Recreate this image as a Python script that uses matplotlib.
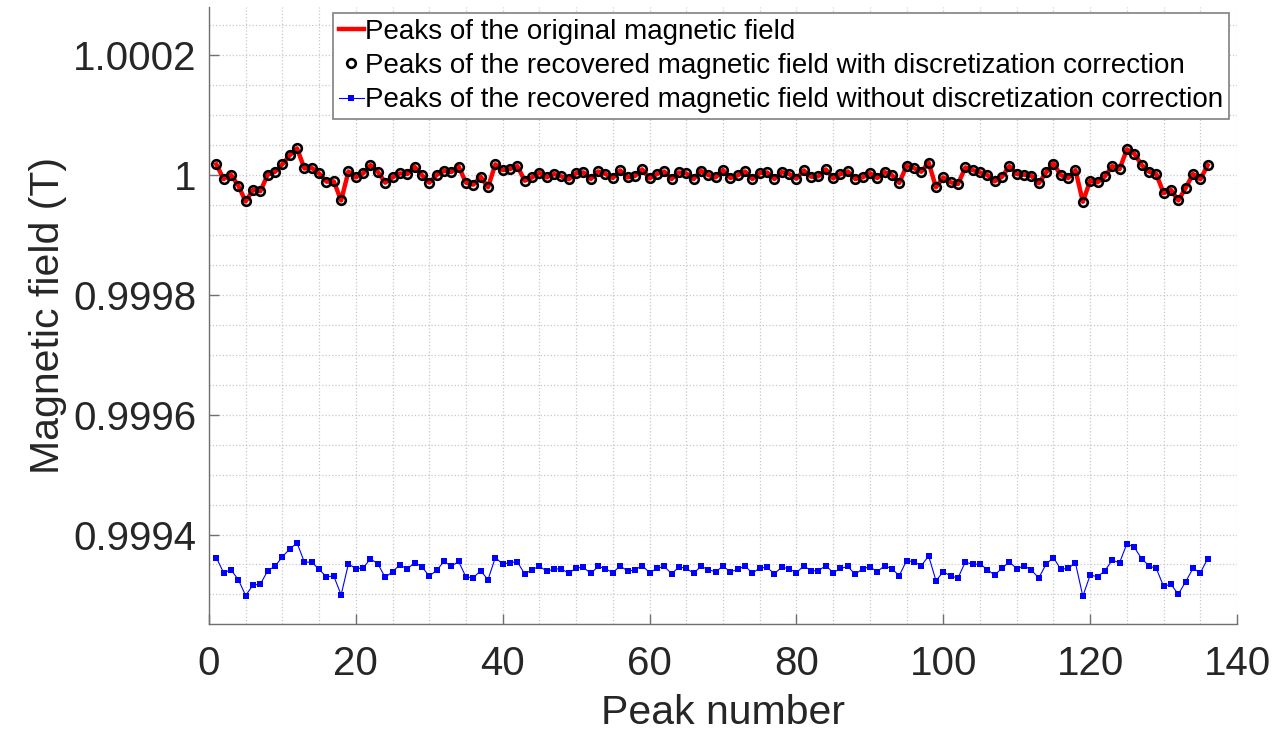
import matplotlib
matplotlib.use("Agg")
import matplotlib.pyplot as plt
from matplotlib.ticker import MultipleLocator

plt.rcParams['font.family'] = ['Liberation Sans', 'DejaVu Sans']

# peak values (Tesla)
original_peaks = [
    1.0000180, 0.9999934, 1.0000005, 0.9999824, 0.9999560, 0.9999752, 0.9999730, 1.0000005,
    1.0000055, 1.0000180, 1.0000330, 1.0000446, 1.0000110, 1.0000120, 1.0000028, 0.9999890,
    0.9999895, 0.9999576, 1.0000060, 0.9999961, 1.0000028, 1.0000165, 1.0000055, 0.9999873,
    0.9999961, 1.0000028, 1.0000017, 1.0000138, 1.0000000, 0.9999873, 1.0000000, 1.0000070,
    1.0000050, 1.0000143, 0.9999873, 0.9999840, 0.9999972, 0.9999796, 1.0000180, 1.0000083,
    1.0000100, 1.0000149, 0.9999906, 0.9999961, 1.0000039, 0.9999961, 1.0000017, 0.9999978,
    0.9999930, 1.0000033, 1.0000044, 0.9999934, 1.0000060, 1.0000017, 0.9999950, 1.0000077,
    0.9999961, 0.9999983, 1.0000094, 0.9999945, 1.0000017, 1.0000060, 0.9999934, 1.0000044,
    1.0000028, 0.9999934, 1.0000070, 1.0000000, 0.9999961, 1.0000083, 0.9999950, 0.9999995,
    1.0000060, 0.9999934, 1.0000033, 1.0000044, 0.9999934, 1.0000050, 1.0000017, 0.9999940,
    1.0000077, 0.9999972, 0.9999978, 1.0000094, 0.9999945, 1.0000017, 1.0000060, 0.9999934,
    0.9999961, 1.0000033, 0.9999950, 1.0000050, 1.0000000, 0.9999870, 1.0000154, 1.0000116,
    1.0000055, 1.0000209, 0.9999796, 0.9999961, 0.9999879, 0.9999851, 1.0000127, 1.0000083,
    1.0000044, 1.0000000, 0.9999895, 0.9999972, 1.0000149, 1.0000017, 1.0000006, 0.9999989,
    0.9999862, 1.0000044, 1.0000193, 1.0000000, 0.9999950, 1.0000083, 0.9999554, 0.9999906,
    0.9999879, 0.9999978, 1.0000149, 1.0000099, 1.0000430, 1.0000358, 1.0000171, 1.0000055,
    1.0000017, 0.9999697, 0.9999752, 0.9999576, 0.9999785, 1.0000017, 0.9999928, 1.0000165,
]

# circles sit exactly on the original peaks in the reference
recovered_corrected = list(original_peaks)

recovered_uncorrected = [
    0.9993616, 0.9993362, 0.9993412, 0.9993247, 0.9992982, 0.9993158, 0.9993170, 0.9993395,
    0.9993472, 0.9993627, 0.9993759, 0.9993858, 0.9993539, 0.9993539, 0.9993417, 0.9993296,
    0.9993307, 0.9992993, 0.9993511, 0.9993428, 0.9993445, 0.9993594, 0.9993511, 0.9993285,
    0.9993379, 0.9993494, 0.9993423, 0.9993533, 0.9993461, 0.9993307, 0.9993401, 0.9993550,
    0.9993472, 0.9993550, 0.9993291, 0.9993280, 0.9993395, 0.9993247, 0.9993616, 0.9993506,
    0.9993533, 0.9993544, 0.9993340, 0.9993412, 0.9993472, 0.9993387, 0.9993425, 0.9993428,
    0.9993351, 0.9993445, 0.9993450, 0.9993351, 0.9993467, 0.9993428, 0.9993362, 0.9993478,
    0.9993390, 0.9993406, 0.9993483, 0.9993362, 0.9993434, 0.9993467, 0.9993346, 0.9993456,
    0.9993439, 0.9993351, 0.9993472, 0.9993412, 0.9993379, 0.9993472, 0.9993379, 0.9993417,
    0.9993478, 0.9993351, 0.9993445, 0.9993450, 0.9993346, 0.9993456, 0.9993428, 0.9993362,
    0.9993478, 0.9993395, 0.9993395, 0.9993483, 0.9993362, 0.9993434, 0.9993467, 0.9993335,
    0.9993428, 0.9993461, 0.9993379, 0.9993480, 0.9993428, 0.9993313, 0.9993566, 0.9993544,
    0.9993478, 0.9993643, 0.9993230, 0.9993379, 0.9993307, 0.9993274, 0.9993544, 0.9993500,
    0.9993511, 0.9993412, 0.9993324, 0.9993439, 0.9993544, 0.9993428, 0.9993478, 0.9993406,
    0.9993274, 0.9993506, 0.9993616, 0.9993417, 0.9993439, 0.9993522, 0.9992971, 0.9993324,
    0.9993296, 0.9993395, 0.9993572, 0.9993528, 0.9993847, 0.9993787, 0.9993599, 0.9993478,
    0.9993434, 0.9993136, 0.9993170, 0.9993004, 0.9993213, 0.9993434, 0.9993362, 0.9993594,
]

peak_number = list(range(1, len(original_peaks) + 1))

xticks = [0, 20, 40, 60, 80, 100, 120, 140]
yticks = [0.9994, 0.9996, 0.9998, 1.0, 1.0002]
ytick_labels = ['0.9994', '0.9996', '0.9998', '1', '1.0002']

fig = plt.figure(figsize=(12.74, 7.32), dpi=100)
ax = fig.add_axes([0.164, 0.147, 0.807, 0.843])

ax.plot(peak_number, original_peaks, '-', color='red', lw=3.2,
        label='Peaks of the original magnetic field', zorder=3)
ax.plot(peak_number, recovered_corrected, 'o', mfc='none', mec='black', ms=6.2, mew=1.9,
        label='Peaks of the recovered magnetic field with discretization correction', zorder=4)
ax.plot(peak_number, recovered_uncorrected, '-s', color='blue', lw=0.8, ms=4.3,
        mfc='blue', mec='blue', markeredgewidth=0,
        label='Peaks of the recovered magnetic field without discretization correction', zorder=3)

ax.set_xlim(0, 140)
ax.set_ylim(0.99925, 1.00028)
ax.set_xticks(xticks)
ax.set_yticks(yticks)
ax.set_yticklabels(ytick_labels)
ax.xaxis.set_minor_locator(MultipleLocator(5))
ax.yaxis.set_minor_locator(MultipleLocator(0.00005))

ax.grid(True, which='both', linestyle=':', color='#c8c8c8', linewidth=0.9)
ax.set_axisbelow(True)

for side in ['top', 'right']:
    ax.spines[side].set_visible(False)
for side in ['left', 'bottom']:
    ax.spines[side].set_color('#707070')
    ax.spines[side].set_linewidth(1.0)

ax.tick_params(which='major', direction='in', length=7, width=1, colors='#707070',
               labelcolor='#262626', labelsize=29)
ax.tick_params(axis='y', pad=9)
ax.tick_params(axis='x', pad=15)
ax.tick_params(which='minor', length=0)

ax.set_xlabel('Peak number', fontsize=29.5, color='#262626')
ax.set_ylabel('Magnetic field (T)', fontsize=29.5, color='#262626')
ax.xaxis.set_label_coords(0.5, -0.112)
ax.yaxis.set_label_coords(-0.138, 0.5)

leg = ax.legend(loc='upper left', bbox_to_anchor=(333 / 1274, 1 - 13 / 732),
                bbox_transform=fig.transFigure, fontsize=20, numpoints=1,
                handlelength=0.9, handletextpad=0.05, labelspacing=0.3,
                borderpad=0.2, borderaxespad=0, fancybox=False, framealpha=1)
leg.get_frame().set_edgecolor('#808080')
leg.get_frame().set_linewidth(1.2)

plt.savefig('out.png', dpi=100)
